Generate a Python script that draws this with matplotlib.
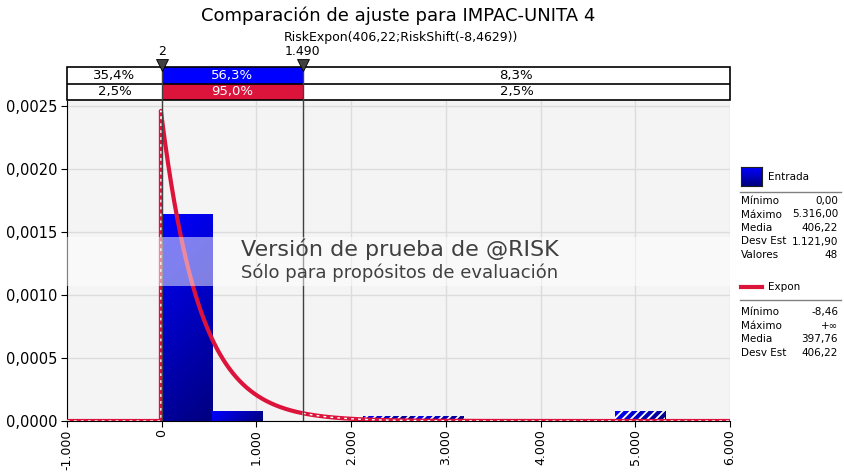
import numpy as np
import matplotlib.pyplot as plt
from matplotlib.patches import Rectangle
from matplotlib.colors import LinearSegmentedColormap
from matplotlib.ticker import FuncFormatter

# input histogram: 48 values, 10 bins from 0 to 5.316
bin_edges = [0.0, 531.6, 1063.2, 1594.8, 2126.4, 2658.0, 3189.6, 3721.2, 4252.8, 4784.4, 5316.0]
bin_counts = [42, 2, 0, 0, 1, 1, 0, 0, 0, 2]
n_values = 48

# fitted distribution RiskExpon(406,22;RiskShift(-8,4629))
expon_beta = 406.22
expon_shift = -8.4629

# delimiters and percentages in each band
left_mark = 2
right_mark = 1490
input_pcts = ["35,4%", "56,3%", "8,3%"]
fit_pcts = ["2,5%", "95,0%", "2,5%"]

stat_names = ["Mínimo", "Máximo", "Media", "Desv Est", "Valores"]
input_stats = ["0,00", "5.316,00", "406,22", "1.121,90", "48"]
fit_stat_names = ["Mínimo", "Máximo", "Media", "Desv Est"]
fit_stats = ["-8,46", "+∞", "397,76", "406,22"]

x_ticks = [-1000, 0, 1000, 2000, 3000, 4000, 5000, 6000]
y_ticks = [0.0, 0.0005, 0.0010, 0.0015, 0.0020, 0.0025]

BLUE = "#0000FF"
NAVY = "#000080"
CRIMSON = "#DC143C"
MARK = "#404040"

plt.rcParams['font.family'] = ['DejaVu Sans']
plt.rcParams['hatch.linewidth'] = 1.3
W, H = 844, 472
fig = plt.figure(figsize=(W / 100, H / 100), dpi=100)


def fx(px):
    return px / W


def fy(py):
    return 1 - py / H


ax = fig.add_axes([fx(67), fy(421), fx(730) - fx(67), fy(101) - fy(421)])
box = fig.add_axes([fx(67), fy(100), fx(730) - fx(67), fy(67) - fy(100)])

xmin, xmax = -1000, 6000
ymin, ymax = 0, 0.00254
ax.set_xlim(xmin, xmax)
ax.set_ylim(ymin, ymax)
ax.set_facecolor("#F4F4F4")
ax.grid(True, color="#DCDCDC", lw=1)
ax.set_axisbelow(True)
for s in ["top", "right"]:
    ax.spines[s].set_visible(False)
ax.spines["left"].set_color("black")
ax.spines["bottom"].set_color("black")
ax.set_xticks(x_ticks)
ax.set_yticks(y_ticks)
ax.xaxis.set_major_formatter(FuncFormatter(lambda v, p: f"{int(v):,}".replace(",", ".")))
ax.yaxis.set_major_formatter(FuncFormatter(lambda v, p: f"{v:.4f}".replace(".", ",")))
ax.tick_params(axis="x", direction="out", length=4, labelsize=9, labelrotation=90, pad=2)
ax.tick_params(axis="y", direction="out", length=4, labelsize=10.5, pad=3)

# gradient-filled histogram bars
cmap = LinearSegmentedColormap.from_list("bar", [BLUE, NAVY])
fig.canvas.draw()
widths = np.diff(bin_edges)
for i, c in enumerate(bin_counts):
    if c == 0:
        continue
    x0, x1 = bin_edges[i], bin_edges[i + 1]
    h = c / (n_values * widths[i])
    p0 = ax.transData.transform((x0, 0))
    p1 = ax.transData.transform((x1, h))
    wp, hp = p1[0] - p0[0], p1[1] - p0[1]
    u = np.linspace(0, 1, 60)[None, :] * wp
    v = np.linspace(1, 0, 120)[:, None] * hp
    t = (u + (hp - v)) / (wp + hp)
    im = ax.imshow(t, extent=[x0, x1, 0, h], origin="upper", cmap=cmap,
                   vmin=0, vmax=1, aspect="auto", zorder=2, interpolation="bilinear")
    clip = Rectangle((x0, 0), x1 - x0, h, transform=ax.transData, fc="none", ec="none")
    ax.add_patch(clip)
    im.set_clip_path(clip)
    if x0 >= right_mark:
        ax.add_patch(Rectangle((x0, 0), x1 - x0, h, fill=False, hatch="////",
                               ec="white", lw=0, zorder=2.5))
ax.set_xlim(xmin, xmax)
ax.set_ylim(ymin, ymax)

# fitted exponential density
xs = np.linspace(expon_shift, xmax, 1500)
pdf = np.exp(-(xs - expon_shift) / expon_beta) / expon_beta
cx = np.concatenate([[xmin, expon_shift], xs])
cy = np.concatenate([[0, 0], pdf])
left = cx <= left_mark
left[left.sum()] = True
mid = (cx >= left_mark) & (cx <= right_mark)
right = cx >= right_mark
for seg in (left, mid, right):
    ax.plot(cx[seg], cy[seg], color=CRIMSON, lw=3, zorder=3, solid_capstyle="butt")
for seg in (left, right):
    ax.plot(cx[seg], cy[seg], color="white", lw=1.0, dashes=(2, 3), zorder=3.1)

# delimiter lines
for m in (left_mark, right_mark):
    ax.axvline(m, color=MARK, lw=1, zorder=4)

# percentage bands above the plot
box.set_xlim(xmin, xmax)
box.set_ylim(0, 2)
box.axis("off")
box.add_patch(Rectangle((left_mark, 1), right_mark - left_mark, 1, fc=BLUE, ec="none"))
box.add_patch(Rectangle((left_mark, 0), right_mark - left_mark, 1, fc=CRIMSON, ec="none"))
box.add_patch(Rectangle((xmin, 0), xmax - xmin, 2, fill=False, ec="black", lw=1.2, clip_on=False))
box.plot([xmin, xmax], [1, 1], color="black", lw=1.2)
for m in (left_mark, right_mark):
    box.plot([m, m], [0, 2], color=MARK, lw=1, clip_on=False)
centers = [(xmin + left_mark) / 2, (left_mark + right_mark) / 2, (right_mark + xmax) / 2]
for j, cxp in enumerate(centers):
    col = "white" if j == 1 else "black"
    box.text(cxp, 1.5, input_pcts[j], ha="center", va="center", fontsize=9.5, color=col)
    box.text(cxp, 0.5, fit_pcts[j], ha="center", va="center", fontsize=9.5, color=col)
for m, lab in ((left_mark, "2"), (right_mark, "1.490")):
    box.plot([m], [2.1], marker="v", ms=8, color=MARK, mec="black", mew=0.6, clip_on=False)
    box.annotate(lab, (m, 2), xytext=(0, 11), textcoords="offset points",
                 ha="center", va="center", fontsize=9)

# trial-version watermark band
ax.add_patch(Rectangle((0, 0.4219), 1, 0.153, transform=ax.transAxes,
                       fc="white", alpha=0.5, ec="none", zorder=10))
ax.text(0.502, 0.5375, "Versión de prueba de @RISK", transform=ax.transAxes,
        ha="center", va="center", fontsize=16, color="#404040", zorder=11)
ax.text(0.502, 0.4625, "Sólo para propósitos de evaluación", transform=ax.transAxes,
        ha="center", va="center", fontsize=13, color="#404040", zorder=11)

# titles
fig.text(fx(398), fy(16), "Comparación de ajuste para IMPAC-UNITA 4",
         ha="center", va="center", fontsize=13)
fig.text(fx(401), fy(37), "RiskExpon(406,22;RiskShift(-8,4629))",
         ha="center", va="center", fontsize=9)

# side legend with summary statistics
sq = fig.add_axes([fx(741), fy(186), fx(762) - fx(741), fy(167) - fy(186)])
sq.imshow(np.linspace(0, 1, 40)[:, None] * np.ones((1, 10)), cmap=cmap, aspect="auto")
sq.set_xticks([])
sq.set_yticks([])
for s in sq.spines.values():
    s.set_color("#202020")
fig.text(fx(768), fy(177), "Entrada", ha="left", va="center", fontsize=7.5)
fig.add_artist(plt.Line2D([fx(740), fx(841)], [fy(192), fy(192)], color="#808080", lw=1))
for k, (nm, val) in enumerate(zip(stat_names, input_stats)):
    yy = 201 + k * 13.5
    fig.text(fx(741), fy(yy), nm, ha="left", va="center", fontsize=7.5)
    fig.text(fx(838), fy(yy), val, ha="right", va="center", fontsize=7.5)

fig.add_artist(plt.Line2D([fx(741), fx(762)], [fy(287), fy(287)], color=CRIMSON, lw=3))
fig.text(fx(768), fy(287), "Expon", ha="left", va="center", fontsize=7.5)
fig.add_artist(plt.Line2D([fx(740), fx(841)], [fy(300), fy(300)], color="#808080", lw=1))
for k, (nm, val) in enumerate(zip(fit_stat_names, fit_stats)):
    yy = 312 + k * 13.7
    fig.text(fx(741), fy(yy), nm, ha="left", va="center", fontsize=7.5)
    fig.text(fx(838), fy(yy), val, ha="right", va="center", fontsize=7.5)

fig.savefig("out.png", dpi=100)
